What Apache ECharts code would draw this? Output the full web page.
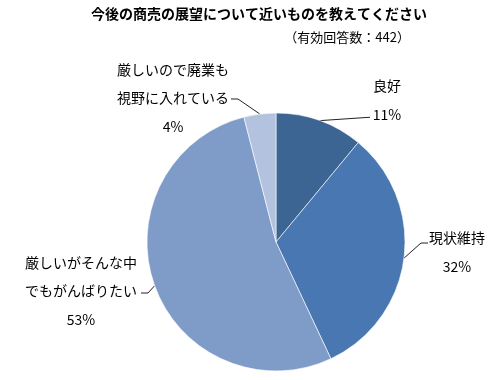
<!DOCTYPE html>
<html>
<head>
<meta charset="utf-8">
<script src="https://cdn.jsdelivr.net/npm/echarts@6/dist/echarts.min.js"></script>
<style>html,body{margin:0;padding:0;background:#fff}#c{width:492px;height:380px}</style>
</head>
<body>
<div id="c"></div>
<script>
const categories = ['良好', '現状維持', '厳しいがそんな中\nでもがんばりたい', '厳しいので廃業も\n視野に入れている'];
const values = [11, 32, 53, 4];
const colors = ['#3d6594', '#4877b1', '#7f9cc8', '#b3c2de'];
const titleText = '今後の商売の展望について近いものを教えてください';
const subText = '（有効回答数：442）';
// label box centres and leader-line bends (layout only)
const labelX = [387, 457, 81, 173];
const labelY = [100, 252, 291, 98];
const lineMid = [[366, 117.5], [421, 243], [148, 293], [238, 99]];
const lineEnd = [[370, 117.3], [428, 243], [141, 293], [231, 99]];

const chart = echarts.init(document.getElementById('c'), null, {renderer: 'canvas'});
const font = '"Noto Sans CJK JP", "Noto Sans", sans-serif';
chart.setOption({
  animation: false,
  backgroundColor: '#fff',
  title: [
    {text: titleText, left: 86, top: 2, textStyle: {fontFamily: font, fontSize: 14, fontWeight: 'bold', color: '#000'}},
    {text: subText, right: 77, top: 26, textStyle: {fontFamily: font, fontSize: 13, fontWeight: 'normal', color: '#000'}}
  ],
  series: [{
    type: 'pie',
    center: [276, 242],
    radius: 129,
    startAngle: 90,
    clockwise: true,
    data: categories.map((n, i) => ({name: n, value: values[i], itemStyle: {color: colors[i]}})),
    itemStyle: {borderColor: '#ffffff', borderWidth: 0.6},
    label: {
      show: true,
      position: 'outside',
      formatter: p => p.name + '\n' + p.value + '%',
      fontFamily: font,
      fontSize: 14,
      lineHeight: 28.5,
      color: '#000',
      align: 'center',
      overflow: 'none',
      width: 200
    },
    labelLine: {show: true, length: 8, length2: 10, lineStyle: {color: '#222', width: 1}},
    labelLayout: function (params) {
      const i = params.dataIndex;
      const res = {x: labelX[i], y: labelY[i], align: 'center', verticalAlign: 'middle'};
      if (params.labelLinePoints && params.labelLinePoints[0]) {
        res.labelLinePoints = [params.labelLinePoints[0].slice(), lineMid[i], lineEnd[i]];
      }
      return res;
    },
    emphasis: {disabled: true}
  }]
});
</script>
</body>
</html>
